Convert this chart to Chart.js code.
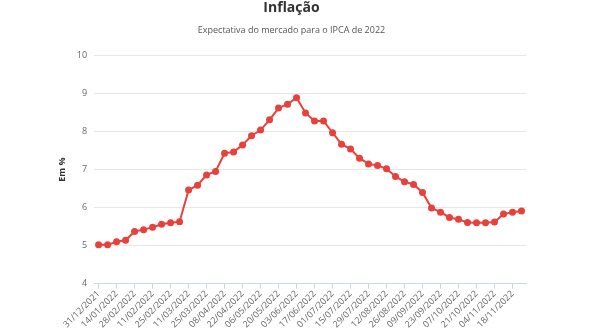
<!DOCTYPE html>
<html>
<head>
<meta charset="utf-8">
<script src="https://cdn.jsdelivr.net/npm/chart.js@4/dist/chart.umd.min.js"></script>
<style>
  html, body { margin: 0; padding: 0; background: #fff; }
  #wrap { width: 590px; height: 330px; }
</style>
</head>
<body>
<div id="wrap"><canvas id="inflacao"></canvas></div>
<script>
// weekly Focus dates (the third label is written like that on the original)
const dates = [
  '31/12/2021', '07/01/2022', '14/01/2022', '21/01/2022', '28/02/2022', '04/02/2022',
  '11/02/2022', '18/02/2022', '25/02/2022', '04/03/2022', '11/03/2022', '18/03/2022',
  '25/03/2022', '01/04/2022', '08/04/2022', '15/04/2022', '22/04/2022', '29/04/2022',
  '06/05/2022', '13/05/2022', '20/05/2022', '27/05/2022', '03/06/2022', '10/06/2022',
  '17/06/2022', '24/06/2022', '01/07/2022', '08/07/2022', '15/07/2022', '22/07/2022',
  '29/07/2022', '05/08/2022', '12/08/2022', '19/08/2022', '26/08/2022', '02/09/2022',
  '09/09/2022', '16/09/2022', '23/09/2022', '30/09/2022', '07/10/2022', '14/10/2022',
  '21/10/2022', '28/10/2022', '04/11/2022', '11/11/2022', '18/11/2022', '25/11/2022'
];

// IPCA 2022 expectation, %
const ipca = [
  5.02, 5.02, 5.10, 5.14, 5.37, 5.42, 5.48, 5.56, 5.60, 5.63,
  6.46, 6.59, 6.86, 6.95, 7.43, 7.46, 7.65, 7.89, 8.04, 8.31,
  8.62, 8.72, 8.89, 8.49, 8.28, 8.28, 7.97, 7.67, 7.54, 7.30,
  7.15, 7.11, 7.02, 6.82, 6.68, 6.61, 6.40, 5.99, 5.88, 5.74,
  5.69, 5.61, 5.60, 5.60, 5.62, 5.83, 5.88, 5.91
];

const yMin = 4;
const yMax = 10;

const FONT = "'Open Sans', sans-serif";
const RED = '#e8413c';

const ctx = document.getElementById('inflacao').getContext('2d');
new Chart(ctx, {
  type: 'line',
  data: {
    labels: dates,
    datasets: [{
      label: 'IPCA 2022',
      data: ipca,
      borderColor: RED,
      backgroundColor: RED,
      borderWidth: 2,
      pointRadius: 3.5,
      pointBorderWidth: 0,
      fill: false,
      tension: 0
    }]
  },
  options: {
    responsive: true,
    maintainAspectRatio: false,
    animation: false,
    layout: { padding: { left: 57, right: 64, top: 0, bottom: 0 } },
    plugins: {
      legend: { display: false },
      tooltip: { enabled: false },
      title: {
        display: true,
        text: 'Inflação',
        color: '#333333',
        font: { family: FONT, size: 14, weight: 'bold' },
        padding: { top: 0, bottom: 8 }
      },
      subtitle: {
        display: true,
        text: 'Expectativa do mercado para o IPCA de 2022',
        color: '#555555',
        font: { family: FONT, size: 9 },
        padding: { top: 0, bottom: 20 }
      }
    },
    scales: {
      x: {
        type: 'category',
        offset: true,
        grid: {
          drawOnChartArea: false,
          drawTicks: true,
          tickLength: 5,
          color: '#ccd6eb'
        },
        border: { display: true, color: '#ccd6eb' },
        ticks: {
          autoSkip: false,
          maxRotation: 45,
          minRotation: 45,
          padding: 0,
          color: '#666666',
          font: { family: FONT, size: 9 },
          // only every second week gets a label and a tick
          callback: (v, i) => (i % 2 === 0 ? dates[i] : null)
        }
      },
      y: {
        min: yMin,
        max: yMax,
        ticks: {
          stepSize: 1,
          padding: 7,
          color: '#666666',
          font: { family: FONT, size: 9 }
        },
        grid: { color: '#e6e6e6', drawTicks: false },
        border: { display: false },
        title: {
          display: true,
          text: 'Em %',
          color: '#333333',
          font: { family: FONT, size: 9, weight: 'bold' },
          padding: { top: 0, bottom: 2 }
        }
      }
    }
  }
});
</script>
</body>
</html>
